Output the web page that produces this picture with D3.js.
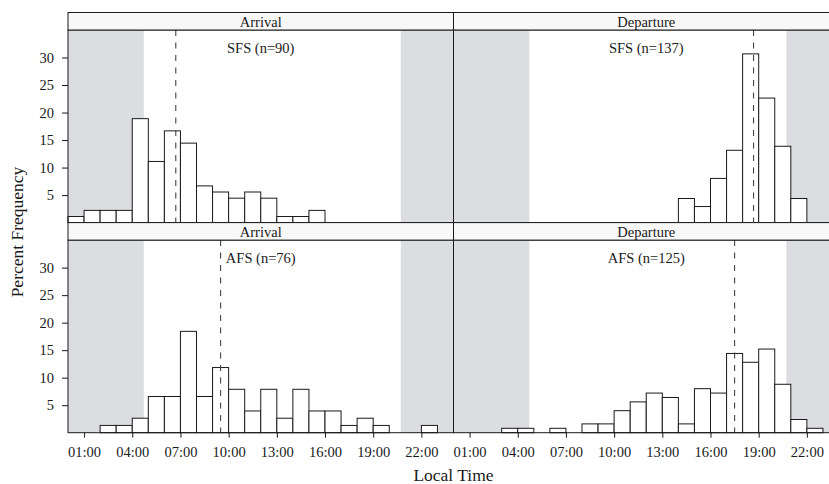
<!DOCTYPE html>
<html>
<head>
<meta charset="utf-8">
<script src="https://cdn.jsdelivr.net/npm/d3@7"></script>
<style>
  html, body { margin: 0; padding: 0; background: #fff; }
  svg { display: block; font-family: "Liberation Serif", "DejaVu Serif", serif; }
</style>
</head>
<body>
<div id="chart"></div>
<script>
// hourly bins 00:00-24:00, values in percent of flights
const binStart = d3.range(0, 24);

const sfsArrival   = [1.11,2.22,2.22,2.22,18.89,11.11,16.67,14.44,6.67,5.56,4.44,5.56,4.44,1.11,1.11,2.22,0,0,0,0,0,0,0,0];
const sfsDeparture = [0,0,0,0,0,0,0,0,0,0,0,0,0,0,4.38,2.92,8.03,13.14,30.66,22.63,13.87,4.38,0,0];
const afsArrival   = [0,0,1.32,1.32,2.63,6.58,6.58,18.42,6.58,11.84,7.89,3.95,7.89,2.63,7.89,3.95,3.95,1.32,2.63,1.32,0,0,1.32,0];
const afsDeparture = [0,0,0,0.8,0.8,0,0.8,0,1.6,1.6,4.0,5.6,7.2,6.4,1.6,8.0,7.2,14.4,12.8,15.2,8.8,2.4,0.8,0];

const panelLabels = ["SFS (n=90)", "SFS (n=137)", "AFS (n=76)", "AFS (n=125)"];
const stripLabels = ["Arrival", "Departure"];
const medianTime  = [6.71, 18.68, 9.5, 17.5];
const nightSpans  = [[0, 4.72], [20.72, 24]];

const xTicks = [1, 4, 7, 10, 13, 16, 19, 22];
const yTicks = [5, 10, 15, 20, 25, 30];

const series = [sfsArrival, sfsDeparture, afsArrival, afsDeparture];

const W = 829, H = 484;
const left = 68, colW = 385.5;
const stripH = 17.5, plotH = 192.6;
const rowTop = [12.5, 222.6];

const svg = d3.select("#chart").append("svg")
  .attr("width", W).attr("height", H);

const x = d3.scaleLinear().domain([0, 24]).range([0, colW]);
const y = d3.scaleLinear().domain([0, 35]).range([plotH, 0]);

const ink = "#1a1a1a";

series.forEach((vals, i) => {
  const col = i % 2, row = Math.floor(i / 2);
  const px = left + col * colW;
  const sy = rowTop[row];
  const py = sy + stripH;

  const g = svg.append("g").attr("transform", `translate(${px},${py})`);

  // night shading
  g.selectAll("rect.night").data(nightSpans).join("rect")
    .attr("class", "night")
    .attr("x", d => x(d[0])).attr("width", d => x(d[1]) - x(d[0]))
    .attr("y", 0).attr("height", plotH)
    .attr("fill", "#dcdde0");

  // bars
  g.selectAll("rect.bar").data(binStart).join("rect")
    .attr("class", "bar")
    .attr("x", d => x(d)).attr("width", d => x(d + 1) - x(d))
    .attr("y", d => y(vals[d])).attr("height", d => y(0) - y(vals[d]))
    .attr("fill", "#fff").attr("stroke", ink).attr("stroke-width", 1);

  // median line
  g.append("line")
    .attr("x1", x(medianTime[i])).attr("x2", x(medianTime[i]))
    .attr("y1", 0).attr("y2", plotH)
    .attr("stroke", "#444").attr("stroke-width", 1.1)
    .attr("stroke-dasharray", "6,6.5");

  g.append("text")
    .attr("x", x(12)).attr("y", 23)
    .attr("text-anchor", "middle")
    .attr("font-size", "14.5px").attr("fill", ink)
    .text(panelLabels[i]);

  // panel frame
  g.append("rect")
    .attr("x", 0).attr("y", 0).attr("width", colW).attr("height", plotH)
    .attr("fill", "none").attr("stroke", ink).attr("stroke-width", 1);

  // strip
  svg.append("rect")
    .attr("x", px).attr("y", sy).attr("width", colW).attr("height", stripH)
    .attr("fill", "#f8f8f8").attr("stroke", ink).attr("stroke-width", 1);
  svg.append("text")
    .attr("x", px + colW / 2).attr("y", sy + 14.3)
    .attr("text-anchor", "middle")
    .attr("font-size", "14.5px").attr("fill", ink)
    .text(stripLabels[col]);

  if (col === 0) {
    const ya = g.append("g")
      .call(d3.axisLeft(y).tickValues(yTicks).tickSize(6).tickPadding(8));
    ya.select(".domain").remove();
    ya.selectAll("line").attr("stroke", ink);
    ya.selectAll("text").attr("font-size", "14.5px").attr("fill", ink)
      .attr("font-family", "Liberation Serif");
  }
  if (row === 1) {
    const xa = g.append("g").attr("transform", `translate(0,${plotH})`)
      .call(d3.axisBottom(x).tickValues(xTicks).tickSize(5).tickPadding(9)
        .tickFormat(d => String(d).padStart(2, "0") + ":00"));
    xa.select(".domain").remove();
    xa.selectAll("line").attr("stroke", ink);
    xa.selectAll("text").attr("font-size", "14.5px").attr("fill", ink)
      .attr("font-family", "Liberation Serif");
  }
});

svg.append("text")
  .attr("x", left + colW).attr("y", 481)
  .attr("text-anchor", "middle")
  .attr("font-size", "17.5px").attr("fill", ink)
  .text("Local Time");

svg.append("text")
  .attr("transform", `translate(23,232) rotate(-90)`)
  .attr("text-anchor", "middle")
  .attr("font-size", "17.5px").attr("fill", ink)
  .text("Percent Frequency");
</script>
</body>
</html>
